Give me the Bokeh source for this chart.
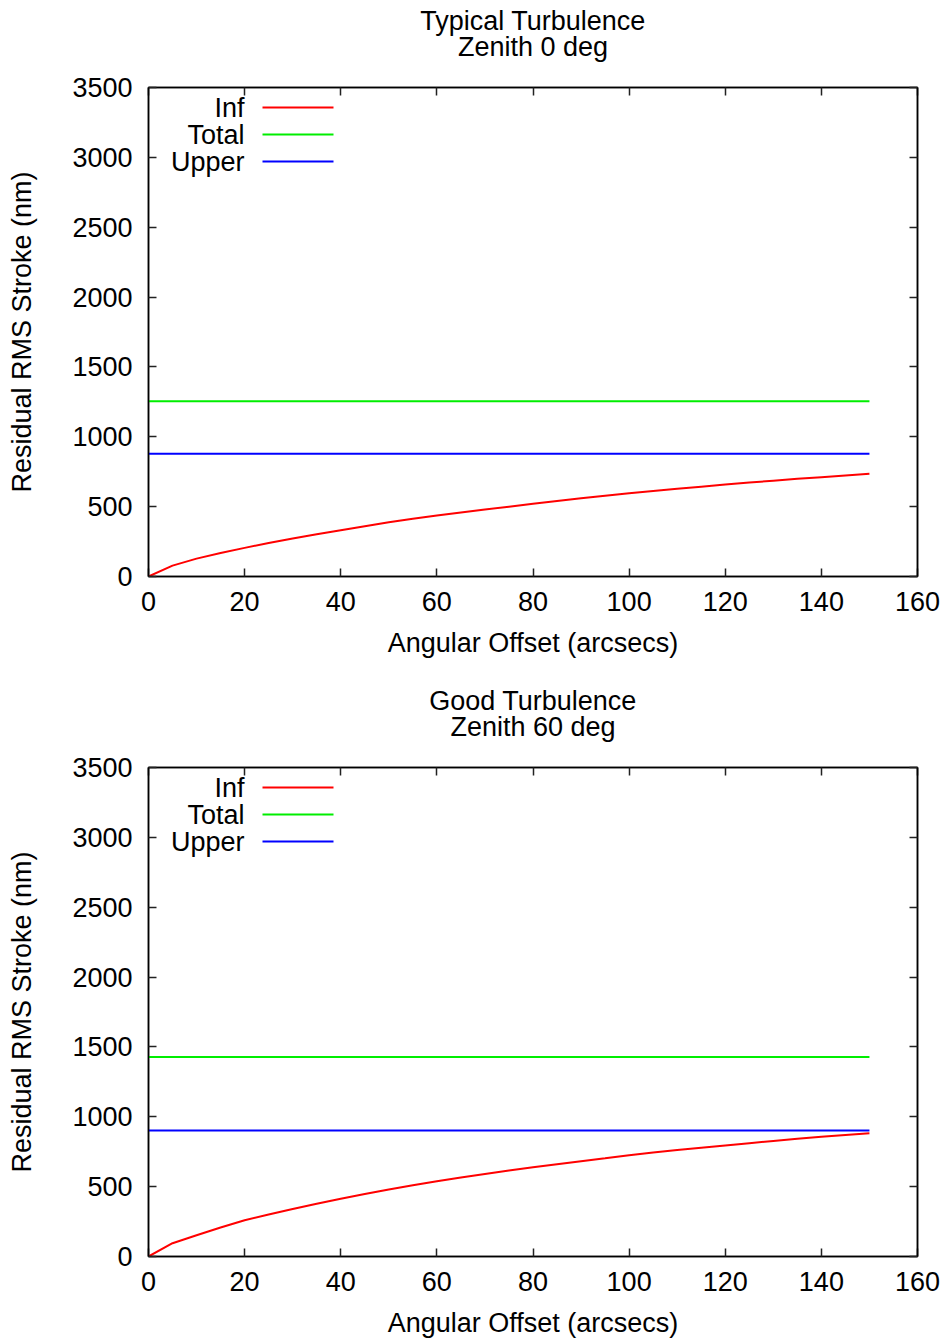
from bokeh.plotting import figure
from bokeh.models import Range1d, FixedTicker, LinearAxis, Label, Arrow, CustomLabelingPolicy
from bokeh.layouts import column
from bokeh.embed import file_html
from bokeh.resources import INLINE

# ---- data ----
offset_arcsec = [0, 5, 10, 15, 20, 25, 30, 35, 40, 45, 50, 55, 60, 65, 70, 75,
                 80, 85, 90, 95, 100, 105, 110, 115, 120, 125, 130, 135, 140, 145, 150]
inf_typical = [0, 78, 128, 168, 205, 240, 272, 302, 331, 360, 388, 413, 436, 458, 480, 500,
               520, 540, 560, 578, 596, 612, 628, 643, 658, 672, 686, 699, 711, 723, 735]
inf_good = [0, 95, 152, 208, 260, 300, 340, 378, 413, 447, 480, 510, 538, 565, 590, 615,
            638, 660, 682, 703, 725, 744, 762, 779, 795, 811, 827, 842, 857, 870, 883]
total_typical = 1255
upper_typical = 878
total_good = 1428
upper_good = 902
line_x_ends = [0, 150]

x_ticks = [0, 20, 40, 60, 80, 100, 120, 140, 160]
y_ticks = [0, 500, 1000, 1500, 2000, 2500, 3000, 3500]
series_names = ["Inf", "Total", "Upper"]
series_colors = ["#ff0000", "#00ee00", "#0000ff"]
panel_titles = [("Typical Turbulence", "Zenith 0 deg"), ("Good Turbulence", "Zenith 60 deg")]
x_label = "Angular Offset (arcsecs)"
y_label = "Residual RMS Stroke (nm)"

FONT = "Liberation Sans"
FS = "27px"
TITLE_H = 70


def make_title(lines):
    t = figure(width=948, height=TITLE_H, output_backend="svg", toolbar_location=None,
               x_range=Range1d(0, 1), y_range=Range1d(0, 1), title_location=None,
               x_axis_location=None, y_axis_location=None,
               min_border=0, min_border_left=0, min_border_right=0,
               min_border_top=0, min_border_bottom=0)
    t.xgrid.visible = False
    t.ygrid.visible = False
    t.outline_line_color = None
    t.border_fill_color = "white"
    # the column aligns this frame with the plot frame below, so centre on that frame
    for txt, yy in ((lines[0], TITLE_H - 20), (lines[1], TITLE_H - 46)):
        t.add_layout(Label(x=384.5, y=yy, x_units="screen", y_units="screen", text=txt,
                           text_align="center", text_baseline="middle", text_font=FONT,
                           text_font_size=FS, text_color="black"))
    return t


def make_panel(inf_vals, total_val, upper_val, height, bottom):
    p = figure(width=948, height=height, output_backend="svg", toolbar_location=None,
               x_range=Range1d(0, 160), y_range=Range1d(0, 3500), title_location=None,
               min_border_left=148, min_border_right=31, min_border_top=87 - TITLE_H,
               min_border_bottom=bottom)
    p.xgrid.visible = False
    p.ygrid.visible = False
    p.outline_line_color = "black"
    p.outline_line_width = 1.5
    p.background_fill_color = "white"
    p.border_fill_color = "white"

    for ax, ticks, lab in ((p.xaxis[0], x_ticks, x_label), (p.yaxis[0], y_ticks, y_label)):
        ax.ticker = FixedTicker(ticks=ticks)
        ax.minor_tick_line_color = None
        ax.major_tick_in = 8
        ax.major_tick_out = 0
        ax.major_tick_line_color = "#222222"
        ax.major_tick_line_width = 1.5
        ax.axis_line_color = "black"
        ax.axis_line_width = 1.5
        ax.major_label_text_font = FONT
        ax.major_label_text_font_size = FS
        ax.major_label_text_color = "black"
        ax.axis_label = lab
        ax.axis_label_text_font = FONT
        ax.axis_label_text_font_size = FS
        ax.axis_label_text_font_style = "normal"
        ax.axis_label_text_color = "black"
    p.xaxis[0].major_label_standoff = 15
    p.xaxis[0].axis_label_standoff = 14
    p.yaxis[0].major_label_standoff = 16
    p.yaxis[0].axis_label_standoff = 32

    # mirrored ticks on top and right (no labels)
    for loc, ticks in (("above", x_ticks), ("right", y_ticks)):
        ax = LinearAxis(ticker=FixedTicker(ticks=ticks))
        ax.minor_tick_line_color = None
        ax.major_tick_in = 8
        ax.major_tick_out = 0
        ax.major_tick_line_color = "#222222"
        ax.major_tick_line_width = 1.5
        ax.axis_line_color = "black"
        ax.axis_line_width = 1.5
        ax.major_label_text_font_size = "1px"
        ax.major_label_standoff = 0
        ax.major_label_policy = CustomLabelingPolicy(code="if (false) { yield 0 }")
        p.add_layout(ax, loc)

    p.line(offset_arcsec, inf_vals, line_color=series_colors[0], line_width=2)
    p.line(line_x_ends, [total_val] * len(line_x_ends), line_color=series_colors[1], line_width=2)
    p.line(line_x_ends, [upper_val] * len(line_x_ends), line_color=series_colors[2], line_width=2)

    # gnuplot-style key (label right-aligned, sample line to the right)
    for i, (name, col) in enumerate(zip(series_names, series_colors)):
        yy = 469 - 27 * i
        p.add_layout(Label(x=96, y=yy, x_units="screen", y_units="screen", text=name,
                           text_align="right", text_baseline="middle", text_font=FONT,
                           text_font_size=FS, text_color="black"))
        p.add_layout(Arrow(end=None, x_start=114, y_start=yy, x_end=185, y_end=yy,
                           start_units="screen", end_units="screen",
                           line_color=col, line_width=2))
    return p


t1 = make_title(panel_titles[0])
p1 = make_panel(inf_typical, total_typical, upper_typical, 680 - TITLE_H, 104)
t2 = make_title(panel_titles[1])
p2 = make_panel(inf_good, total_good, upper_good, 661 - TITLE_H, 85)
layout = column(t1, p1, t2, p2, spacing=0)

open("out.html", "w").write(file_html(layout, INLINE))
